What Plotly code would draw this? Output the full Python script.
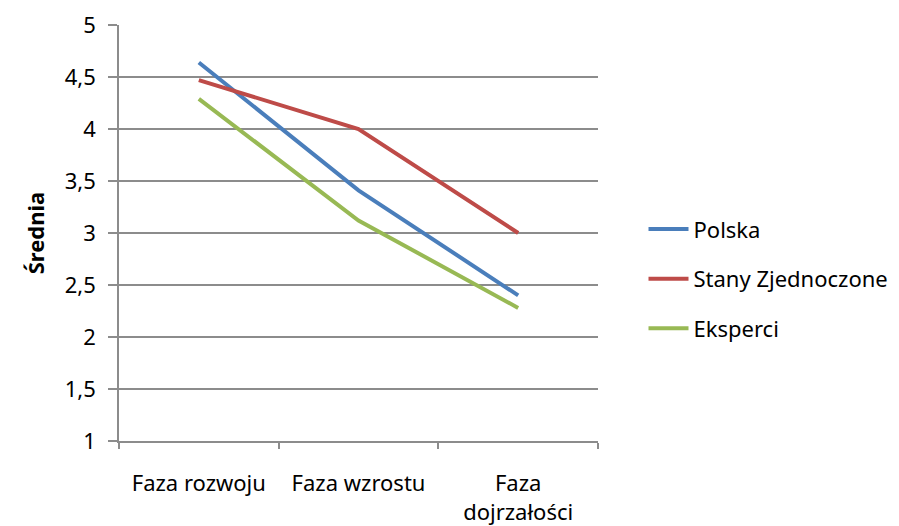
import plotly.graph_objects as go

# Mean scores per development phase
categories = ["Faza rozwoju", "Faza wzrostu", "Faza<br>dojrzałości"]
polska = [4.64, 3.41, 2.40]
stany_zjednoczone = [4.47, 4.00, 3.00]
eksperci = [4.29, 3.12, 2.28]
y_ticks = [1, 1.5, 2, 2.5, 3, 3.5, 4, 4.5, 5]
y_tick_labels = ["1", "1,5", "2", "2,5", "3", "3,5", "4", "4,5", "5"]

series = [
    ("Polska", polska, "#4A7EBB"),
    ("Stany Zjednoczone", stany_zjednoczone, "#BE4B48"),
    ("Eksperci", eksperci, "#98B954"),
]

FONT = "Noto Sans"
FS = 22
GRID = "#8C8C8C"

fig = go.Figure()
for name, values, color in series:
    fig.add_trace(go.Scatter(
        x=categories, y=values, name=name, mode="lines",
        legendgroup=name,
        line=dict(color=color, width=4),
    ))

fig.update_layout(
    width=899, height=526,
    margin=dict(l=119, r=301, t=25, b=85, autoexpand=False),
    paper_bgcolor="white", plot_bgcolor="white",
    font=dict(family=FONT, size=FS, color="#000000"),
    showlegend=True,
    legend=dict(
        x=1.095, xanchor="left", y=0.39, yanchor="middle",
        font=dict(family=FONT, size=FS),
        tracegroupgap=18,
        itemwidth=40,
        bgcolor="rgba(0,0,0,0)",
    ),
    xaxis=dict(
        type="category",
        automargin=False,
        showgrid=False,
        showline=True, linecolor=GRID, linewidth=1.5,
        ticks="outside", tickson="boundaries", ticklen=6,
        tickcolor=GRID, tickwidth=1.5,
        ticklabelstandoff=22,
        tickfont=dict(family=FONT, size=FS),
        range=[-0.5, 2.5],
    ),
    yaxis=dict(
        range=[1, 5],
        automargin=False,
        tickvals=y_ticks, ticktext=y_tick_labels,
        showgrid=True, gridcolor=GRID, gridwidth=1.5,
        showline=True, linecolor=GRID, linewidth=1.5,
        ticks="outside", ticklen=9, tickcolor=GRID, tickwidth=1.5,
        ticklabelstandoff=8,
        zeroline=False,
        tickfont=dict(family=FONT, size=FS),
        title=dict(text="<b>Średnia</b>", font=dict(family=FONT, size=FS), standoff=14),
    ),
)

fig.write_html("out.html")
